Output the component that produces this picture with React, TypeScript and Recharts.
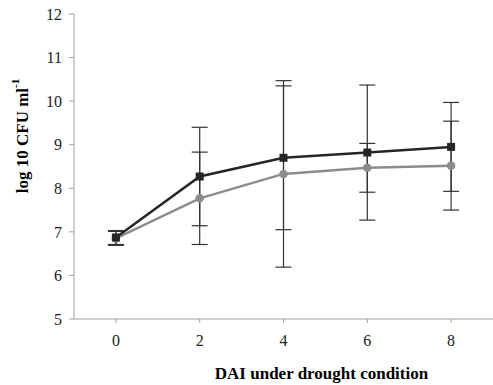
import { LineChart, Line, XAxis, YAxis, ErrorBar } from "recharts";

const days = [0, 2, 4, 6, 8];
const xTicks = [0, 2, 4, 6, 8];
const yTicks = [5, 6, 7, 8, 9, 10, 11, 12];

// black series (squares) and its SD
const blackMean = [6.87, 8.27, 8.7, 8.82, 8.95];
const blackErr = [0.16, 1.13, 1.65, 1.55, 1.02];

// grey series (circles) and its SD
const greyMean = [6.85, 7.77, 8.33, 8.47, 8.52];
const greyErr = [0.16, 1.06, 2.14, 0.56, 1.02];

const data = days.map((d, i) => ({
  day: d,
  black: blackMean[i],
  blackErr: blackErr[i],
  grey: greyMean[i],
  greyErr: greyErr[i],
}));

const FONT = "'Liberation Serif', 'Times New Roman', serif";

const Square = (props: any) => {
  const { cx, cy } = props;
  if (cx == null || cy == null) return null;
  return <rect x={cx - 4} y={cy - 4} width={8} height={8} fill="#262626" />;
};

const YTitle = () => (
  <text
    x={22}
    y={136}
    transform="rotate(-90 22 136)"
    textAnchor="middle"
    dominantBaseline="central"
    fontFamily={FONT}
    fontWeight="bold"
    fontSize={17}
    fill="#000"
  >
    log 10 CFU ml
    <tspan dy={-7} fontSize={11}>
      -1
    </tspan>
  </text>
);

export default function App() {
  return (
    <div style={{ position: "absolute", left: 0, top: 0, background: "#fff" }}>
      <LineChart
        width={493}
        height={385}
        data={data}
        margin={{ top: 14, right: 0, bottom: 0, left: 0 }}
      >
        <XAxis
          dataKey="day"
          type="number"
          domain={[-1, 9]}
          ticks={xTicks}
          height={66}
          stroke="#a0a0a0"
          tickSize={4}
          tickMargin={12}
          tick={{ fontFamily: FONT, fontSize: 16, fill: "#222" }}
          label={{
            value: "DAI under drought condition",
            position: "insideBottom",
            offset: 6,
            dx: 38,
            style: { fontFamily: FONT, fontWeight: "bold", fontSize: 17, fill: "#000" },
          }}
        />
        <YAxis
          domain={[5, 12]}
          ticks={yTicks}
          width={74}
          stroke="#a0a0a0"
          tickSize={5}
          tickMargin={7}
          tick={{ fontFamily: FONT, fontSize: 16, fill: "#222" }}
          label={{ content: <YTitle /> }}
        />
        <Line
          dataKey="grey"
          stroke="#8c8c8c"
          strokeWidth={2.5}
          dot={{ r: 3, fill: "#8c8c8c", stroke: "#8c8c8c" }}
          isAnimationActive={false}
        >
          <ErrorBar dataKey="greyErr" direction="y" width={8} stroke="#333" strokeWidth={1.2} />
        </Line>
        <Line
          dataKey="black"
          stroke="#262626"
          strokeWidth={2.5}
          dot={<Square />}
          isAnimationActive={false}
        >
          <ErrorBar dataKey="blackErr" direction="y" width={8} stroke="#333" strokeWidth={1.2} />
        </Line>
      </LineChart>
    </div>
  );
}
